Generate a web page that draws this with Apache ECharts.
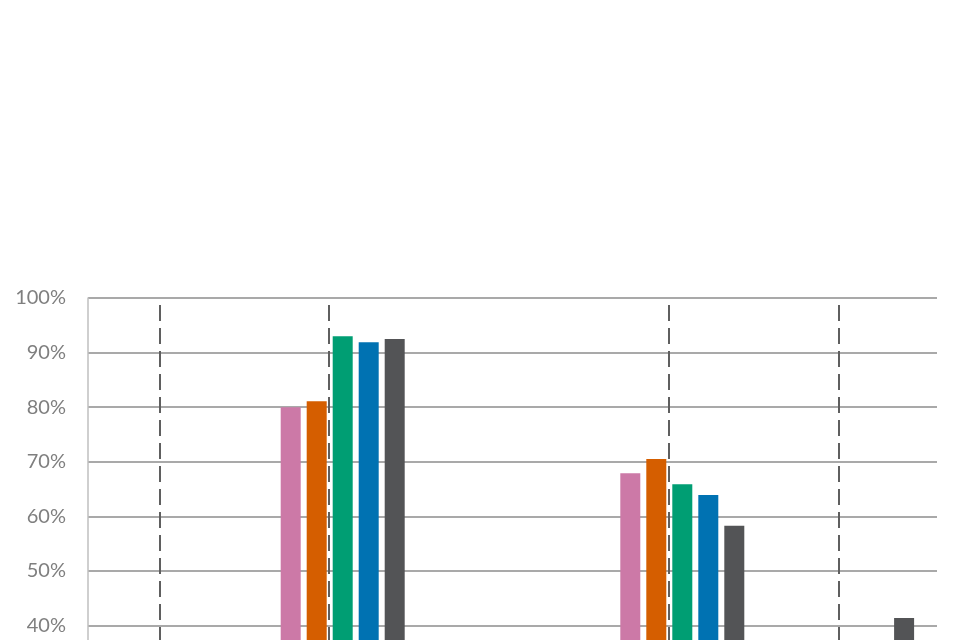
<!DOCTYPE html>
<html>
<head>
<meta charset="utf-8">
<script src="https://cdn.jsdelivr.net/npm/echarts@6/dist/echarts.min.js"></script>
<style>html,body{margin:0;padding:0;background:#fff;overflow:hidden;width:960px;height:640px;}#c{width:960px;height:900px;}</style>
</head>
<body>
<div id="c"></div>
<script>
const categories = ['Category 1', 'Category 2', 'Category 3', 'Category 4', 'Category 5'];
const seriesNames = ['Series 1', 'Series 2', 'Series 3', 'Series 4', 'Series 5'];
const series1 = [0.30, 0.800, 0.32, 0.679, 0.33];
const series2 = [0.31, 0.811, 0.33, 0.705, 0.34];
const series3 = [0.32, 0.930, 0.34, 0.659, 0.35];
const series4 = [0.33, 0.919, 0.35, 0.639, 0.36];
const series5 = [0.34, 0.925, 0.36, 0.583, 0.414];
const dashedLinePositions = [0.42, 1.415, 3.42, 4.42];
const yTicks = [0, 0.1, 0.2, 0.3, 0.4, 0.5, 0.6, 0.7, 0.8, 0.9, 1.0];
const colors = ['#CC79A7', '#D55E00', '#009E73', '#0072B2', '#535456'];

const values = [series1, series2, series3, series4, series5];
const chart = echarts.init(document.getElementById('c'), null, {renderer: 'canvas'});
const barSeries = values.map((v, i) => ({
  name: seriesNames[i],
  type: 'bar',
  data: v,
  barWidth: 20,
  barGap: '30%',
  itemStyle: {color: colors[i]},
  z: 2
}));
barSeries.push({
  type: 'line',
  xAxisIndex: 1,
  data: [],
  markLine: {
    silent: true,
    symbol: ['none', 'none'],
    label: {show: false},
    lineStyle: {type: [16, 7], dashOffset: 6, color: '#5f5f5f', width: 2},
    data: dashedLinePositions.map(p => ({xAxis: p}))
  },
  z: 3
});
chart.setOption({
  animation: false,
  grid: {left: 88, top: 298, width: 849, height: 546, containLabel: false},
  xAxis: [
    {type: 'category', data: categories, axisLine: {show: false}, axisTick: {show: false}, axisLabel: {show: true, color: '#7f7f7f'}},
    {type: 'value', min: 0, max: 5, show: false}
  ],
  yAxis: {
    type: 'value', min: yTicks[0], max: yTicks[yTicks.length - 1], interval: 0.1,
    axisLine: {show: true, lineStyle: {color: '#bfbfbf', width: 1.5}},
    axisTick: {show: false},
    splitLine: {lineStyle: {color: '#8c8c8c', width: 1.5}},
    axisLabel: {
      margin: 22, color: '#7f7f7f', fontSize: 20, fontFamily: 'Lato',
      formatter: v => Math.round(v * 100) + '%'
    }
  },
  series: barSeries
});
</script>
</body>
</html>
